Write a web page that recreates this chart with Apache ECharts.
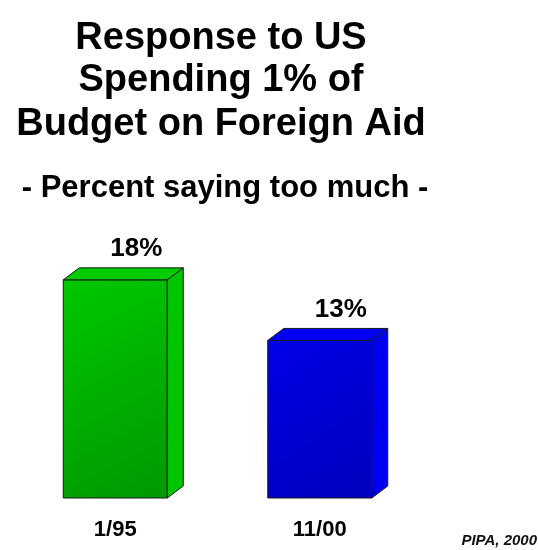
<!DOCTYPE html>
<html>
<head>
<meta charset="utf-8">
<script src="https://cdn.jsdelivr.net/npm/echarts@6/dist/echarts.min.js"></script>
<style>
  html, body { margin: 0; padding: 0; background: #fff; }
  #chart { width: 538px; height: 550px; }
</style>
</head>
<body>
<div id="chart"></div>
<script>
  // data
  var categories = ['1/95', '11/00'];
  var values = [18, 13];
  var valueLabels = ['18%', '13%'];
  var titleLines = ['Response to US', 'Spending 1% of', 'Budget on Foreign Aid'];
  var subtitle = '- Percent saying too much -';
  var source = 'PIPA, 2000';

  var FONT = '"Liberation Sans", Arial, sans-serif';
  var palette = [
    { front: ['#00c800', '#009800'], side: '#00c400', top: '#00cc00' },
    { front: ['#0000e8', '#0000bc'], side: '#0000f0', top: '#0000f4' }
  ];
  var DX = 16, DY = 12, BAR_W = 104;

  var chart = echarts.init(document.getElementById('chart'));

  function renderBar(params, api) {
    var idx = api.value(0);
    var top = api.coord([idx, api.value(1)]);
    var base = api.coord([idx, 0]);
    var x0 = top[0] - BAR_W / 2, x1 = top[0] + BAR_W / 2;
    var yT = top[1], yB = base[1];
    var c = palette[idx];
    var edge = { stroke: '#1a1a1a', lineWidth: 1 };
    return {
      type: 'group',
      children: [
        {
          type: 'rect',
          shape: { x: x0, y: yT, width: BAR_W, height: yB - yT },
          style: Object.assign({
            fill: new echarts.graphic.LinearGradient(0, 0, 1, 1, [
              { offset: 0, color: c.front[0] },
              { offset: 1, color: c.front[1] }
            ])
          }, edge)
        },
        {
          type: 'polygon',
          shape: { points: [[x0, yT], [x0 + DX, yT - DY], [x1 + DX, yT - DY], [x1, yT]] },
          style: Object.assign({ fill: c.top }, edge)
        },
        {
          type: 'polygon',
          shape: { points: [[x1, yT], [x1 + DX, yT - DY], [x1 + DX, yB - DY], [x1, yB]] },
          style: Object.assign({ fill: c.side }, edge)
        },
        {
          type: 'text',
          x: top[0] + 21,
          y: yT - DY - 6,
          style: {
            text: valueLabels[idx],
            fill: '#000',
            font: 'bold 26px ' + FONT,
            align: 'center',
            verticalAlign: 'bottom'
          }
        }
      ]
    };
  }

  var titleY = [39, 81, 125];
  var graphics = titleLines.map(function (line, i) {
    return {
      type: 'text',
      x: 221,
      y: titleY[i],
      style: { text: line, fill: '#000', font: 'bold 38px ' + FONT, align: 'center', verticalAlign: 'middle' }
    };
  });
  graphics.push({
    type: 'text', x: 225, y: 188,
    style: { text: subtitle, fill: '#000', font: 'bold 31px ' + FONT, align: 'center', verticalAlign: 'middle' }
  });
  graphics.push({
    type: 'text', right: 1, y: 541,
    style: { text: source, fill: '#111', font: 'italic bold 15px ' + FONT, align: 'left', verticalAlign: 'middle' }
  });

  chart.setOption({
    animation: false,
    backgroundColor: '#fff',
    grid: { left: 13, right: 116, top: 195, bottom: 52 },
    xAxis: {
      type: 'category',
      data: categories,
      axisLine: { show: false },
      axisTick: { show: false },
      axisLabel: { margin: 21, color: '#000', fontSize: 22, fontWeight: 'bold', fontFamily: FONT }
    },
    yAxis: {
      type: 'value',
      min: 0,
      max: 25,
      show: false
    },
    graphic: graphics,
    series: [{
      type: 'custom',
      renderItem: renderBar,
      encode: { x: 0, y: 1 },
      data: values.map(function (v, i) { return [i, v]; })
    }]
  });
</script>
</body>
</html>
